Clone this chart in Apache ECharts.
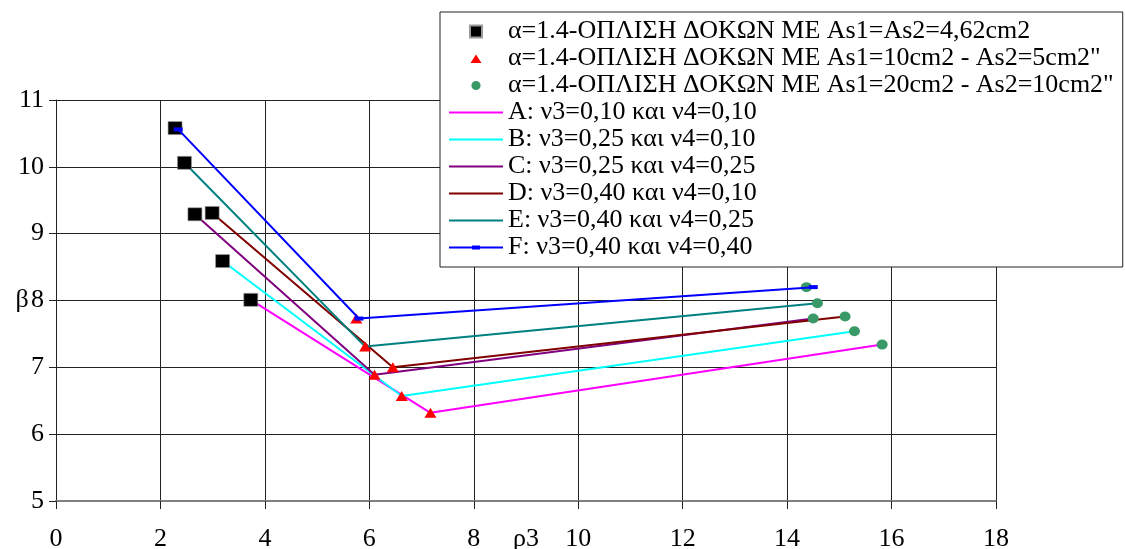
<!DOCTYPE html>
<html>
<head>
<meta charset="utf-8">
<script src="https://cdn.jsdelivr.net/npm/echarts@6/dist/echarts.min.js"></script>
<style>
html,body{margin:0;padding:0;background:#fff;}
#main{width:1125px;height:549px;}
</style>
</head>
<body>
<div id="main"></div>
<script>
// Data
const squareX = [2.28, 2.46, 2.66, 2.99, 3.19, 3.73];
const squareY = [10.58, 10.06, 9.29, 9.31, 8.59, 8.01];
const triangleX = [5.75, 5.92, 6.10, 6.45, 6.62, 7.17];
const triangleY = [7.73, 7.31, 6.89, 7.00, 6.57, 6.32];
const circleX = [14.37, 14.58, 14.50, 15.11, 15.29, 15.82];
const circleY = [8.20, 7.96, 7.73, 7.76, 7.54, 7.34];

const lineA = [[3.73, 8.01], [7.17, 6.32], [15.82, 7.34]];
const lineB = [[3.19, 8.59], [6.62, 6.57], [15.29, 7.54]];
const lineC = [[2.66, 9.29], [6.10, 6.89], [14.50, 7.73]];
const lineD = [[2.99, 9.31], [6.45, 7.00], [15.11, 7.76]];
const lineE = [[2.46, 10.06], [5.92, 7.31], [14.58, 7.96]];
const lineF = [[2.34, 10.56], [5.80, 7.73], [14.50, 8.20]];

const scatterNames = [
  'α=1.4-ΟΠΛΙΣΗ ΔΟΚΩΝ ΜΕ As1=As2=4,62cm2',
  'α=1.4-ΟΠΛΙΣΗ ΔΟΚΩΝ ΜΕ As1=10cm2 - As2=5cm2"',
  'α=1.4-ΟΠΛΙΣΗ ΔΟΚΩΝ ΜΕ As1=20cm2 - As2=10cm2"'
];
const lineNames = [
  'A: ν3=0,10 και ν4=0,10',
  'B: ν3=0,25 και ν4=0,10',
  'C: ν3=0,25 και ν4=0,25',
  'D: ν3=0,40 και ν4=0,10',
  'E: ν3=0,40 και ν4=0,25',
  'F: ν3=0,40 και ν4=0,40'
];
const lineColors = ['#ff00ff', '#00ffff', '#800080', '#800000', '#008080', '#0000ff'];
const xTicks = {min: 0, max: 18, interval: 2};
const yTicks = {min: 5, max: 11, interval: 1};

const FONT = '"Liberation Serif", "Times New Roman", serif';
const zip = (xs, ys) => xs.map((x, i) => [x, ys[i]]);
const lineData = [lineA, lineB, lineC, lineD, lineE, lineF];

const series = [];
lineData.forEach((d, i) => {
  const isF = i === 5;
  series.push({
    name: lineNames[i],
    type: 'line',
    data: d,
    z: isF ? 5 : 1,
    symbol: isF ? 'rect' : 'none',
    symbolSize: [9, 4],
    showSymbol: isF,
    lineStyle: {color: lineColors[i], width: 2},
    itemStyle: {color: lineColors[i]},
    silent: true,
    animation: false
  });
});
series.push({
  name: scatterNames[0], type: 'scatter', data: zip(squareX, squareY),
  symbol: 'rect', symbolSize: [14, 13], z: 3,
  itemStyle: {color: '#000', opacity: 1, borderColor: '#999', borderWidth: 0.6}, animation: false
});
series.push({
  name: scatterNames[1], type: 'scatter', data: zip(triangleX, triangleY),
  symbol: 'triangle', symbolSize: [12, 10], z: 3,
  itemStyle: {color: '#ff0000', opacity: 1}, animation: false
});
series.push({
  name: scatterNames[2], type: 'scatter', data: zip(circleX, circleY),
  symbol: 'circle', symbolSize: [11, 10], z: 3,
  itemStyle: {color: '#3a9a67', opacity: 1}, animation: false
});

const lineIcon = 'path://M0,5H54V7H0Z';
const lineRectIcon = 'path://M0,5H23V4H31V5H54V7H31V8H23V7H0Z';

const chart = echarts.init(document.getElementById('main'), null, {renderer: 'canvas'});
chart.setOption({
  backgroundColor: '#fff',
  animation: false,
  grid: {left: 56, right: 129, top: 100, bottom: 48, containLabel: false, outerBoundsMode: 'none'},
  legend: {
    orient: 'vertical',
    left: 440,
    top: 12,
    padding: [6, 9, 6, 9],
    backgroundColor: '#fff',
    borderColor: '#222',
    borderWidth: 1,
    itemWidth: 54,
    itemHeight: 12,
    itemGap: 0,
    itemTextGap: 7,
    selectedMode: false,
    symbolKeepAspect: true,
    textStyle: {fontFamily: FONT, fontSize: 26, color: '#000', lineHeight: 27},
    data: [
      {name: scatterNames[0], icon: 'path://M-1,0M13,0M0,0H12V12H0Z'},
      {name: scatterNames[1], icon: 'path://M0,0M12,12M6,2L11.5,10.5H0.5Z'},
      {name: scatterNames[2], icon: 'path://M0,0M12,12M6,1.4A4.6,4.6 0 1 1 5.99,1.4Z'},
      ...lineNames.map((n, i) => ({name: n, icon: i === 5 ? lineRectIcon : lineIcon}))
    ]
  },
  xAxis: {
    type: 'value',
    min: xTicks.min, max: xTicks.max, interval: xTicks.interval,
    name: 'ρ3', nameLocation: 'middle', nameGap: 38, nameMoveOverlap: false,
    nameTextStyle: {fontFamily: FONT, fontSize: 26, color: '#000', verticalAlign: 'middle', align: 'center'},
    axisLine: {show: true, onZero: false, lineStyle: {color: '#808080', width: 2}},
    axisTick: {show: true, length: 8, lineStyle: {color: '#222'}},
    axisLabel: {fontFamily: FONT, fontSize: 26, color: '#000', margin: 25},
    splitLine: {show: true, lineStyle: {color: '#222', width: 1}}
  },
  yAxis: {
    type: 'value',
    min: yTicks.min, max: yTicks.max, interval: yTicks.interval,
    name: 'β', nameLocation: 'middle', nameGap: 34, nameRotate: 0, nameMoveOverlap: false,
    nameTextStyle: {fontFamily: FONT, fontSize: 26, color: '#000', verticalAlign: 'middle', align: 'center'},
    axisLine: {show: true, onZero: false, lineStyle: {color: '#222', width: 1}},
    axisTick: {show: true, length: 7, lineStyle: {color: '#222'}},
    axisLabel: {fontFamily: FONT, fontSize: 26, color: '#000', margin: 12},
    splitLine: {show: true, lineStyle: {color: '#222', width: 1}}
  },
  series: series
});
</script>
</body>
</html>
